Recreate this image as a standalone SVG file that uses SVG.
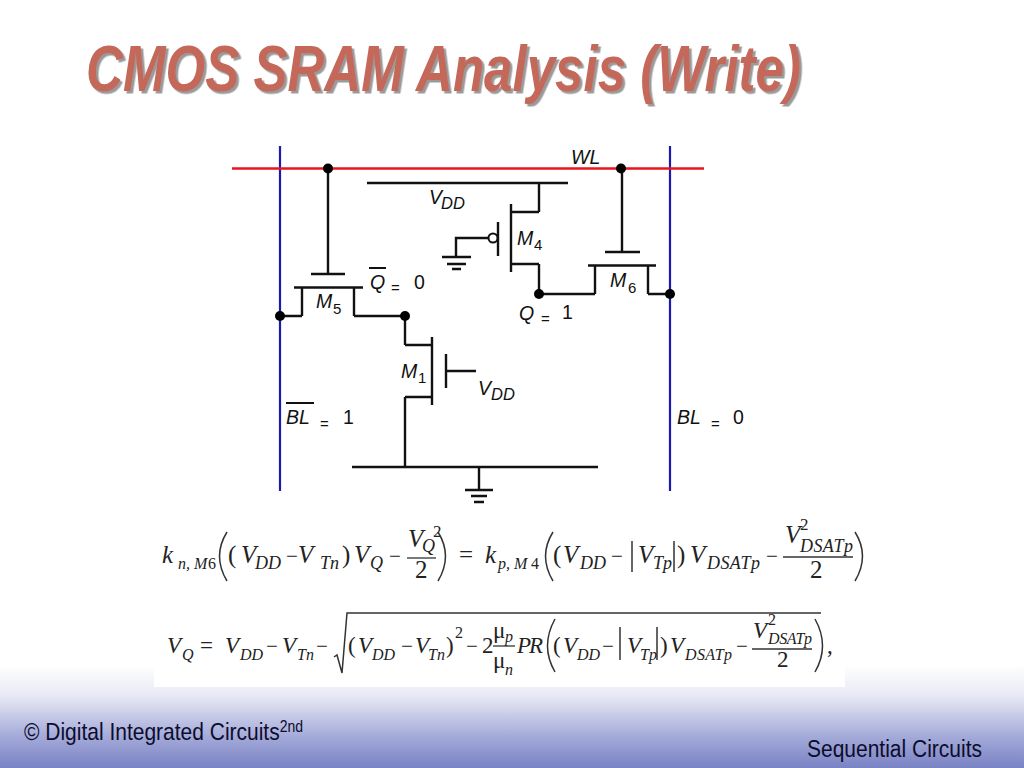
<svg xmlns="http://www.w3.org/2000/svg" width="1024" height="768" viewBox="0 0 1024 768">
<style>
.w{fill:none;stroke:#111;stroke-width:2.4}
.t{font-family:"Liberation Sans",Arial,sans-serif;font-size:19.500px;fill:#111}
.i{font-style:italic}
.s{font-size:15px}
.dd{font-size:16.500px}
.e{font-size:15px}
.m{font-family:"Liberation Serif","Times New Roman",serif;font-size:25px;fill:#222}
.m2{font-size:23px}
.mn{font-size:21px}
.ss{font-size:18px;font-style:italic}
.sss{font-size:16px;font-style:italic}
.l{fill:none;stroke:#333;stroke-width:1.3}
.p{fill:none;stroke:#333;stroke-width:1.5}
.d{fill:#000}
.title{font-family:"Liberation Sans",Arial,sans-serif;font-weight:bold;font-style:italic;font-size:64px;filter:url(#sh)}
.f{font-family:"Liberation Sans",Arial,sans-serif;fill:#0c0c2c}
</style>
<defs>
<linearGradient id="bg" x1="0" y1="0" x2="0" y2="1">
<stop offset="0" stop-color="#ffffff"/>
<stop offset="0.3" stop-color="#e8e9f5"/>
<stop offset="0.7" stop-color="#a3a9d8"/>
<stop offset="1" stop-color="#7982c4"/>
</linearGradient>
<filter id="sh" x="-5%" y="-20%" width="110%" height="140%"><feDropShadow dx="2.500" dy="2.500" stdDeviation="0.600" flood-color="#9a9a9a"/></filter>
</defs>
<rect width="1024" height="768" fill="#fff"/>
<rect y="665" width="1024" height="103" fill="url(#bg)"/>
<rect x="154" y="660" width="691" height="27" fill="#fff"/>

<g id="title">
<text class="title" x="86" y="91" fill="#c4675a" textLength="715" lengthAdjust="spacingAndGlyphs">CMOS SRAM Analysis (Write)</text>
</g>

<g id="connectors">
<path d="M280 146V491M670 146V491" fill="none" stroke="#1a1ab0" stroke-width="2.2"/>
<path d="M232 168.500H704" fill="none" stroke="#e8141e" stroke-width="2.400"/>
<path class="w" d="M328 168V274M622 168V252"/>
<path class="w" d="M280 316H302M354 316H405M405 316V345M405 397V467M539 264V294M539 294H595M648 294H670M539 183V212"/>
<path class="w" d="M479 467V490"/>
<path class="w" d="M456 257V238H488"/>
</g>

<g id="rail-vdd"><path class="w" d="M367 183H568"/><text class="t i" x="429" y="204">V</text><text class="t i dd" x="441" y="209">DD</text></g>
<g id="rail-gnd"><path class="w" d="M352 467H598"/></g>
<g id="gnd-bottom"><path class="w" d="M465 490H493M471 496H487M474 502H484"/></g>
<g id="gnd-m4"><path class="w" d="M442 257H471M447 264H466M452 269H461"/></g>

<g id="M5"><path class="w" d="M311 274H345M294 287.500H363M302 287.500V316M354 287.500V316"/><text class="t i" x="316" y="308">M</text><text class="t s" x="333" y="314">5</text></g>
<g id="M1"><path class="w" d="M405 345H432M405 397H432M432 337V405M446 354V388M446 371H476"/><text class="t i" x="401" y="378">M</text><text class="t s" x="418" y="383">1</text><text class="t i" x="478" y="395">V</text><text class="t i dd" x="491" y="400">DD</text></g>
<g id="M4"><path class="w" d="M511 212H539M511 264H539M511 204V272M498 222V256"/><circle cx="493" cy="238" r="4.500" fill="#fff" stroke="#111" stroke-width="2"/><text class="t i" x="517" y="245">M</text><text class="t s" x="534" y="250">4</text></g>
<g id="M6"><path class="w" d="M605 252H640M588 265.500H656M595 265.500V294M648 265.500V294"/><text class="t i" x="610" y="287">M</text><text class="t s" x="628" y="293">6</text></g>

<g id="junctions">
<circle class="d" cx="328" cy="168.500" r="5"/><circle class="d" cx="621" cy="168.500" r="5"/><circle class="d" cx="539" cy="294" r="5"/><circle class="d" cx="670" cy="294" r="5"/><circle class="d" cx="280" cy="316" r="5"/><circle class="d" cx="405" cy="316" r="5"/>
</g>

<g id="labels">
<text class="t i" x="571" y="164">WL</text>
<path d="M369 268H386M286 403H314" stroke="#111" stroke-width="1.800" fill="none"/>
<text class="t i" x="370" y="289">Q</text><text class="t e" x="391" y="293">=</text><text class="t" x="414" y="289" font-size="18">0</text>
<text class="t i" x="519" y="320">Q</text><text class="t e" x="541" y="324">=</text><text class="t" x="562" y="319">1</text>
<text class="t i" x="286" y="424">BL</text><text class="t e" x="320" y="429">=</text><text class="t" x="343" y="424">1</text>
<text class="t i" x="677" y="424">BL</text><text class="t e" x="711" y="429">=</text><text class="t" x="733" y="424">0</text>
</g>

<g id="eq1" class="m">
<text class="i" x="162" y="563">k</text><text class="sss" x="178" y="569">n, M</text><text font-size="16" x="208" y="569">6</text>
<path class="p" d="M227 532Q212 556 227 581"/>
<text x="228" y="563">(</text><text class="i" x="241" y="563">V</text><text class="ss" x="255" y="569">DD</text><text class="mn" x="286" y="563">−</text><text class="i" x="298" y="563">V</text><text class="ss" x="320" y="569">Tn</text><text x="342" y="563">)</text><text class="i" x="354" y="563">V</text><text class="ss" x="370" y="569">Q</text><text class="mn" x="389" y="563">−</text>
<text class="i" x="408" y="547">V</text><text class="ss" x="422" y="552">Q</text><text font-size="17" x="433" y="537">2</text><path class="l" d="M407 558H436"/><text x="415" y="578">2</text>
<path class="p" d="M438 532Q453 556 438 581"/>
<text x="459" y="563">=</text>
<text class="i" x="485" y="563">k</text><text class="sss" x="498" y="569">p, M</text><text font-size="16" x="531" y="569">4</text>
<path class="p" d="M553 532Q538 556 553 581"/>
<text x="553" y="563">(</text><text class="i" x="563" y="563">V</text><text class="ss" x="580" y="569">DD</text><text class="mn" x="611" y="563">−</text><path class="p" d="M632 541V572M674 541V572"/><text class="i" x="638" y="563">V</text><text class="ss" x="653" y="569">Tp</text><text x="677" y="563">)</text><text class="i" x="690" y="563">V</text><text class="ss" x="707" y="569" textLength="53">DSATp</text><text class="mn" x="766" y="563">−</text>
<text class="i" x="785" y="543">V</text><text font-size="17" x="800" y="530">2</text><text class="ss" x="800" y="552" textLength="53">DSATp</text><path class="l" d="M783 557H853"/><text x="810" y="578">2</text>
<path class="p" d="M855 532Q870 556 855 581"/>
</g>

<g id="eq2" class="m">
<text class="i m2" x="167" y="653">V</text><text class="sss" x="182" y="660">Q</text><text class="m2" x="200" y="653">=</text><text class="i m2" x="225" y="653">V</text><text class="sss" x="240" y="660">DD</text><text class="mn" x="266" y="653">−</text><text class="i m2" x="282" y="653">V</text><text class="sss" x="297" y="660">Tn</text><text class="mn" x="316" y="653">−</text>
<path d="M334 657L337 655L342 673L347 613H821" fill="none" stroke="#333" stroke-width="1.500"/>
<text class="m2" x="348" y="653">(</text><text class="i m2" x="358" y="653">V</text><text class="sss" x="372" y="660">DD</text><text class="mn" x="401" y="653">−</text><text class="i m2" x="415" y="653">V</text><text class="sss" x="428" y="660">Tn</text><text class="m2" x="446" y="653">)</text><text font-size="16" x="455" y="638">2</text><text class="mn" x="466" y="653">−</text><text class="m2" x="482" y="653">2</text>
<text class="m2" x="493" y="638">μ</text><text class="sss" x="505" y="642">p</text><path class="l" d="M493 646H515"/><text class="m2" x="493" y="668">μ</text><text class="sss" x="505" y="675">n</text>
<text class="i m2" x="517" y="653" textLength="26">PR</text>
<path class="p" d="M555 619Q540 646 555 672"/>
<text class="m2" x="553" y="653">(</text><text class="i m2" x="563" y="653">V</text><text class="sss" x="577" y="660">DD</text><text class="mn" x="602" y="653">−</text><path class="p" d="M620 627V660M657 627V660"/><text class="i m2" x="627" y="653">V</text><text class="sss" x="640" y="660">Tp</text><text class="m2" x="660" y="653">)</text><text class="i m2" x="670" y="653">V</text><text class="sss" x="685" y="660" textLength="47">DSATp</text><text class="mn" x="736" y="653">−</text>
<text class="i m2" x="753" y="638">V</text><text font-size="16" x="768" y="625">2</text><text class="sss" x="768" y="644" textLength="44">DSATp</text><path class="l" d="M752 649H812"/><text class="m2" x="777" y="667">2</text>
<path class="p" d="M815 619Q830 646 815 672"/><text class="m2" x="827" y="653">,</text>
</g>

<g id="footer">
<text class="f" transform="translate(24 740) scale(.875 1)" font-size="24">© Digital Integrated Circuits<tspan font-size="16" dy="-8">2nd</tspan></text>
<text class="f" x="807" y="757" font-size="23" textLength="175" lengthAdjust="spacingAndGlyphs">Sequential Circuits</text>
</g>
</svg>
